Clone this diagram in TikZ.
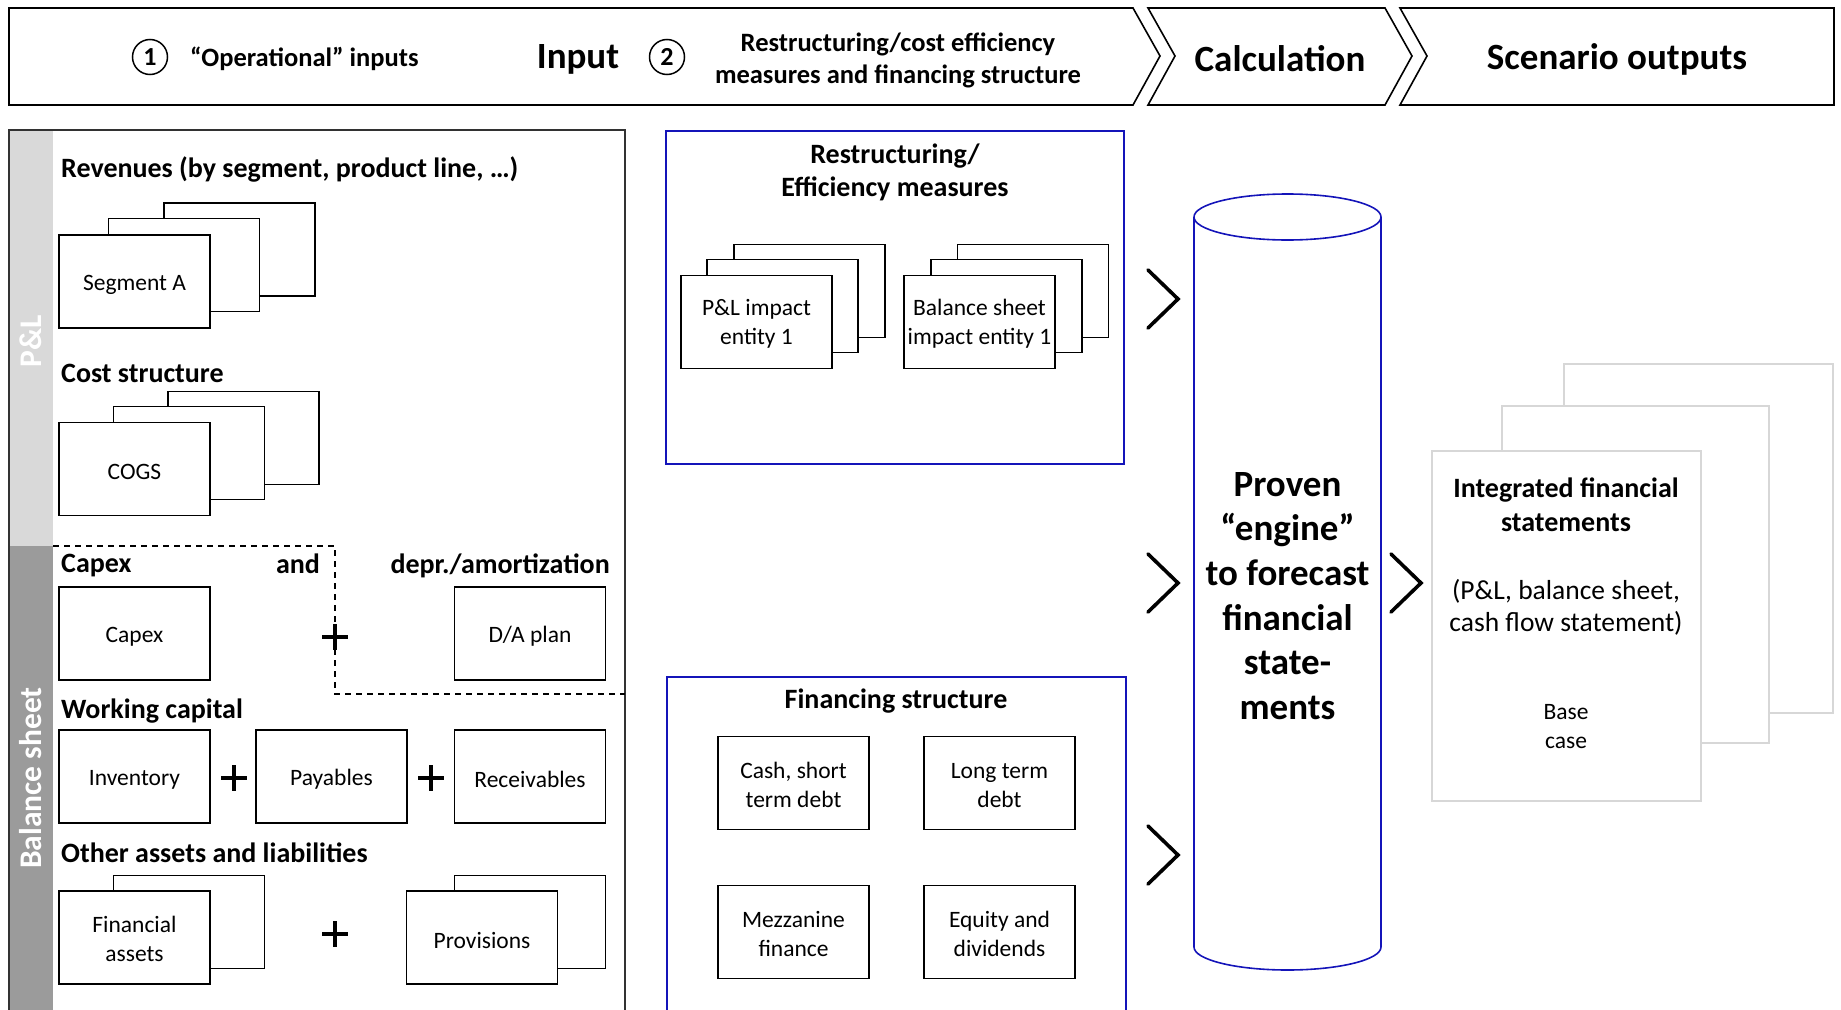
\documentclass[tikz,border=0pt]{standalone}
\usepackage{fontspec}
\setmainfont{Carlito}
\usepackage{tikz}
\usetikzlibrary{positioning,calc}
\definecolor{frameblue}{RGB}{20,20,185}
\definecolor{plclr}{RGB}{217,217,217}
\definecolor{bsclr}{RGB}{155,155,155}
\definecolor{outclr}{RGB}{215,215,215}
\definecolor{edgeclr}{RGB}{50,50,50}
\newcommand\hugefnt{\fontsize{37}{44.6}\selectfont\bfseries}
\newcommand\headfnt{\fontsize{26.5}{32}\selectfont\bfseries}
\newcommand\secfnt{\fontsize{28}{33.5}\selectfont\bfseries}
\newcommand\boxfnt{\fontsize{23.5}{29}\selectfont}
\newcommand\notefnt{\fontsize{27.5}{32}\selectfont}
\newcommand\barfnt{\fontsize{31.5}{36}\selectfont\bfseries}
\tikzset{
    card/.style={draw,line width=1.6pt,fill=white,minimum width=151pt,minimum height=93pt,inner sep=2pt,font=\boxfnt,align=center,
        execute at begin node={\rule{0pt}{22pt}}},
    twoline/.style={execute at begin node={\rule{0pt}{48.5pt}}},
    outcard/.style={draw=outclr,line width=1.6pt,fill=white,minimum width=269pt,inner sep=0pt},
    phase/.style={draw,line width=1.6pt,fill=white,line join=miter},
    panel/.style={draw=frameblue,line width=1.6pt},
    sect/.style={anchor=west,inner sep=0pt,font=\secfnt},
    plus/.style={minimum size=26pt,inner sep=0pt,path picture={
        \draw[line width=4pt] (path picture bounding box.north) -- (path picture bounding box.south)
            (path picture bounding box.west) -- (path picture bounding box.east);}},
    num/.style={circle,draw,line width=1.5pt,minimum size=35pt,inner sep=0pt,font=\fontsize{26}{26}\selectfont\bfseries},
    chev/.style={line width=3.6pt,line cap=round,line join=miter},
}
\begin{document}
\begin{tikzpicture}[x=1pt,y=-1pt,
    txt/.style={inner sep=0pt,align=center},
    dashline/.style={line width=1.5pt,dash pattern=on 6pt off 5pt},
]
\useasboundingbox (0,0) rectangle (1841,1009);

% phase header
\draw[phase] (9,8) -- (1133,8) -- (1160,56) -- (1133,105) -- (9,105) -- cycle;
\draw[phase] (1148,8) -- (1385,8) -- (1412,56) -- (1385,105) -- (1148,105) -- (1175,56) -- cycle;
\draw[phase] (1400,8) -- (1834,8) -- (1834,105) -- (1400,105) -- (1427,56) -- cycle;
\node[num] (n1) at (150,57) {1};
\node[txt,anchor=west,font=\headfnt] (oper) at (190,58.5) {“Operational” inputs};
\node[txt,font=\hugefnt] (input) at (578,59.5) {Input};
\node[num] (n2) at (667,57) {2};
\node[txt,font=\headfnt] (restr) at (898,60.5) {Restructuring/cost efficiency\\measures and financing structure};
\node[txt,font=\hugefnt] (calc) at (1280,59) {Calculation};
\node[txt,font=\hugefnt] (scen) at (1617,59.5) {Scenario outputs};

% operational inputs panel
\fill[plclr] (9,130) rectangle (53,546);
\fill[bsclr] (9,546) rectangle (53,1015);
\draw[edgeclr,line width=1.5pt] (9,1015) -- (9,130) -- (625,130) -- (625,1015);
\node[txt,rotate=90,text=white,font=\barfnt] (pl) at (31,341) {P\&L};
\node[txt,rotate=90,text=white,font=\barfnt] (bs) at (31,778) {Balance sheet};

\node[sect] (rev) at (61,169.5) {Revenues (by segment, product line, …)};
\node[card] (segc) at (239.5,249.5) {};
\node[card] (segb) at (184,265) {};
\node[card] (sega) at (134.5,281.5) {Segment A};

\node[sect] (cost) at (61,373.5) {Cost structure};
\node[card] (cogsc) at (243.5,438) {};
\node[card] (cogsb) at (189,453) {};
\node[card] (cogs) at (134.5,469) {COGS};

\draw[dashline] (53,546) -- (335,546) -- (335,694) -- (625,694);
\node[sect] (capt) at (61,565.5) {Capex};
\node[txt,font=\secfnt] (and) at (298,564) {and};
\node[txt,anchor=east,font=\secfnt] (dept) at (610,565.5) {depr./amortization};
\node[card] (capex) at (134.5,633.5) {Capex};
\node[plus,fill=white] (p1) at (335,637) {};
\node[card] (da) at (530,633.5) {D/A plan};

\node[sect] (wc) at (61,711) {Working capital};
\node[card] (inv) at (134.5,776.5) {Inventory};
\node[plus] (p2) at (234,778) {};
\node[card] (pay) at (331.5,776.5) {Payables};
\node[plus] (p3) at (431,778) {};
\node[card] (rec) at (530,776.5) {Receivables};

\node[sect] (oal) at (61,852.5) {Other assets and liabilities};
\node[card] (fab) at (189,922) {};
\node[card,twoline] (fa) at (134.5,937.5) {Financial\\assets};
\node[plus] (p4) at (335,934) {};
\node[card] (provb) at (530,922) {};
\node[card] (prov) at (482,937.5) {Provisions};

% restructuring and financing panels
\draw[panel] (666,131) rectangle (1124,464);
\node[txt,font=\secfnt] (eff) at (895,172.5) {Restructuring/\\Efficiency measures};
\node[card] (plc) at (809.5,291) {};
\node[card] (plb) at (782.5,306) {};
\node[card,twoline] (pla) at (756.5,322) {P\&L impact\\entity 1};
\node[card] (bsc) at (1033,291) {};
\node[card] (bsb) at (1006.5,306) {};
\node[card,twoline,inner sep=0pt] (bsa) at (979.5,322) {Balance sheet\\impact entity 1};

\draw[panel] (667,1015) -- (667,677) -- (1126,677) -- (1126,1015);
\node[txt,font=\secfnt] (fin) at (896,701.5) {Financing structure};
\node[card,twoline] (cash) at (793.5,783) {Cash, short\\term debt};
\node[card,twoline] (ltd) at (999.5,783) {Long term\\debt};
\node[card,twoline] (mezz) at (793.5,932) {Mezzanine\\finance};
\node[card,twoline] (eq) at (999.5,932) {Equity and\\dividends};

% engine
\foreach \yy in {299,583,855}
    \draw[chev] (1148,\yy-29) -- (1178,\yy) -- (1148,\yy+29);
\draw[panel] (1194,217) -- (1194,947) arc[start angle=180,end angle=0,x radius=93.5,y radius=23] -- (1381,217);
\draw[panel] (1287.5,217) ellipse [x radius=93.5,y radius=23];
\node[txt,font=\hugefnt] (engine) at (1287.5,596) {Proven\\“engine”\\to forecast\\financial\\state-\\ments};
\draw[chev] (1391,554) -- (1421,583) -- (1391,612);

% scenario outputs
\node[outcard,minimum height=349pt] (outc) at (1698.5,538.5) {};
\node[outcard,minimum height=337pt,minimum width=267pt] (outb) at (1635.5,574.5) {};
\node[outcard,minimum height=350pt] (outa) at (1566.5,626) {};
\node[txt,font=\secfnt] (ifs) at (1566,505) {Integrated financial\\statements};
\node[txt,font=\notefnt] (ifsd) at (1566,607) {(P\&L, balance sheet,\\cash flow statement)};
\node[txt,font=\boxfnt] (base) at (1566,727) {Base\\case};
\end{tikzpicture}
\end{document}
